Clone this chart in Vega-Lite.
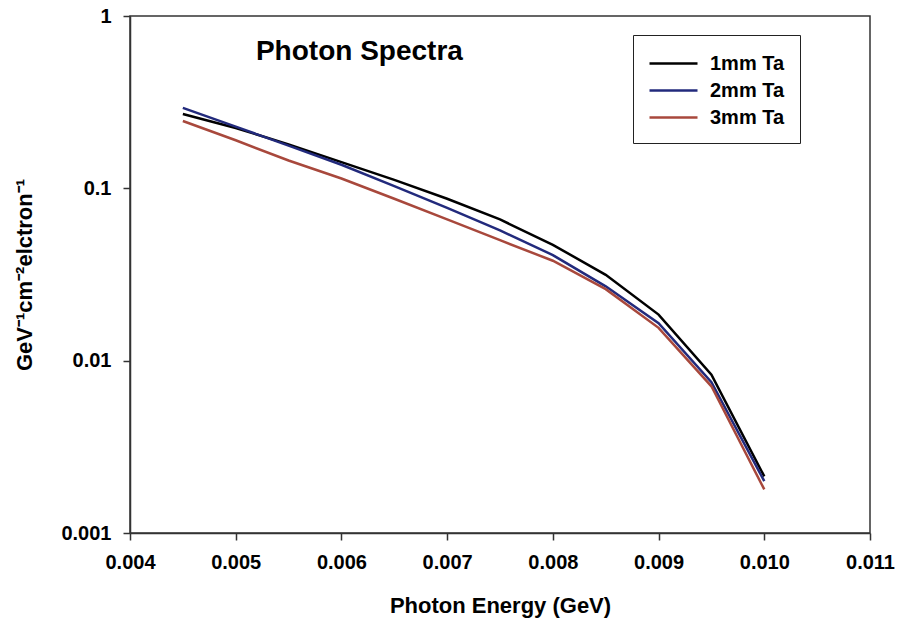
{
  "$schema": "https://vega.github.io/schema/vega-lite/v6.json",
  "width": 740,
  "height": 517,
  "autosize": {"type": "none"},
  "padding": {"left": 130, "top": 16, "right": 27, "bottom": 91},
  "background": "white",
  "config": {
    "font": "Liberation Sans",
    "view": {"stroke": "#333333", "strokeWidth": 1.5},
    "axis": {"grid": false, "labelFlush": false, "domainColor": "#333333", "tickColor": "#333333", "domainWidth": 1.5, "tickWidth": 1.5, "tickSize": 7, "labelFont": "Liberation Sans", "labelFontWeight": "bold", "labelFontSize": 20, "labelColor": "black", "titleFont": "Liberation Sans", "titleFontWeight": "bold", "titleFontSize": 22, "titleColor": "black"}
  },
  "layer": [
    {
      "data": {
        "values": [
          {"E": 0.0045, "v": 0.270, "s": "1mm Ta"},
          {"E": 0.0050, "v": 0.224, "s": "1mm Ta"},
          {"E": 0.0055, "v": 0.180, "s": "1mm Ta"},
          {"E": 0.0060, "v": 0.142, "s": "1mm Ta"},
          {"E": 0.0065, "v": 0.112, "s": "1mm Ta"},
          {"E": 0.0070, "v": 0.087, "s": "1mm Ta"},
          {"E": 0.0075, "v": 0.066, "s": "1mm Ta"},
          {"E": 0.0080, "v": 0.047, "s": "1mm Ta"},
          {"E": 0.0085, "v": 0.0315, "s": "1mm Ta"},
          {"E": 0.0090, "v": 0.0185, "s": "1mm Ta"},
          {"E": 0.0095, "v": 0.0083, "s": "1mm Ta"},
          {"E": 0.0100, "v": 0.00213, "s": "1mm Ta"},
          {"E": 0.0045, "v": 0.293, "s": "2mm Ta"},
          {"E": 0.0050, "v": 0.228, "s": "2mm Ta"},
          {"E": 0.0055, "v": 0.177, "s": "2mm Ta"},
          {"E": 0.0060, "v": 0.137, "s": "2mm Ta"},
          {"E": 0.0065, "v": 0.103, "s": "2mm Ta"},
          {"E": 0.0070, "v": 0.077, "s": "2mm Ta"},
          {"E": 0.0075, "v": 0.057, "s": "2mm Ta"},
          {"E": 0.0080, "v": 0.041, "s": "2mm Ta"},
          {"E": 0.0085, "v": 0.027, "s": "2mm Ta"},
          {"E": 0.0090, "v": 0.0165, "s": "2mm Ta"},
          {"E": 0.0095, "v": 0.0075, "s": "2mm Ta"},
          {"E": 0.0100, "v": 0.0020, "s": "2mm Ta"},
          {"E": 0.0045, "v": 0.246, "s": "3mm Ta"},
          {"E": 0.0050, "v": 0.190, "s": "3mm Ta"},
          {"E": 0.0055, "v": 0.145, "s": "3mm Ta"},
          {"E": 0.0060, "v": 0.114, "s": "3mm Ta"},
          {"E": 0.0065, "v": 0.087, "s": "3mm Ta"},
          {"E": 0.0070, "v": 0.066, "s": "3mm Ta"},
          {"E": 0.0075, "v": 0.050, "s": "3mm Ta"},
          {"E": 0.0080, "v": 0.038, "s": "3mm Ta"},
          {"E": 0.0085, "v": 0.026, "s": "3mm Ta"},
          {"E": 0.0090, "v": 0.0155, "s": "3mm Ta"},
          {"E": 0.0095, "v": 0.0071, "s": "3mm Ta"},
          {"E": 0.0100, "v": 0.00179, "s": "3mm Ta"}
        ]
      },
      "mark": {"type": "line", "strokeWidth": 2.5, "clip": true},
      "encoding": {
        "x": {"field": "E", "type": "quantitative", "scale": {"domain": [0.004, 0.011], "nice": false, "zero": false},
              "axis": {"title": "Photon Energy (GeV)", "values": [0.004, 0.005, 0.006, 0.007, 0.008, 0.009, 0.010, 0.011], "format": ".3f", "labelFlush": false, "labelPadding": 12, "titlePadding": 23}},
        "y": {"field": "v", "type": "quantitative", "scale": {"type": "log", "domain": [0.001, 1], "nice": false},
              "axis": {"title": "GeV⁻¹cm⁻²elctron⁻¹", "values": [0.001, 0.01, 0.1, 1], "format": "~g", "labelFlush": false, "labelPadding": 12, "titlePadding": 24}},
        "color": {"field": "s", "type": "nominal",
                  "scale": {"domain": ["1mm Ta", "2mm Ta", "3mm Ta"], "range": ["#000000", "#222a7c", "#a8483c"]},
                  "legend": {"title": null, "orient": "none", "legendX": 503, "legendY": 19, "direction": "vertical",
                             "symbolType": "M-2,0H2", "symbolSize": 576, "symbolStrokeWidth": 2.5, "symbolOffset": 12,
                             "labelFont": "Liberation Sans", "labelFontSize": 20, "labelFontWeight": "bold", "labelColor": "black",
                             "labelOffset": 23, "padding": 15, "rowPadding": 3, "strokeColor": "#222222"}}
      }
    },
    {
      "data": {"values": [{"label": "Photon Spectra"}]},
      "mark": {"type": "text", "font": "Liberation Sans", "fontSize": 28, "fontWeight": "bold", "align": "center", "baseline": "middle", "fill": "black"},
      "encoding": {
        "text": {"field": "label", "type": "nominal"},
        "x": {"datum": 0.00617, "type": "quantitative"},
        "y": {"datum": 0.618, "type": "quantitative"}
      }
    }
  ]
}
